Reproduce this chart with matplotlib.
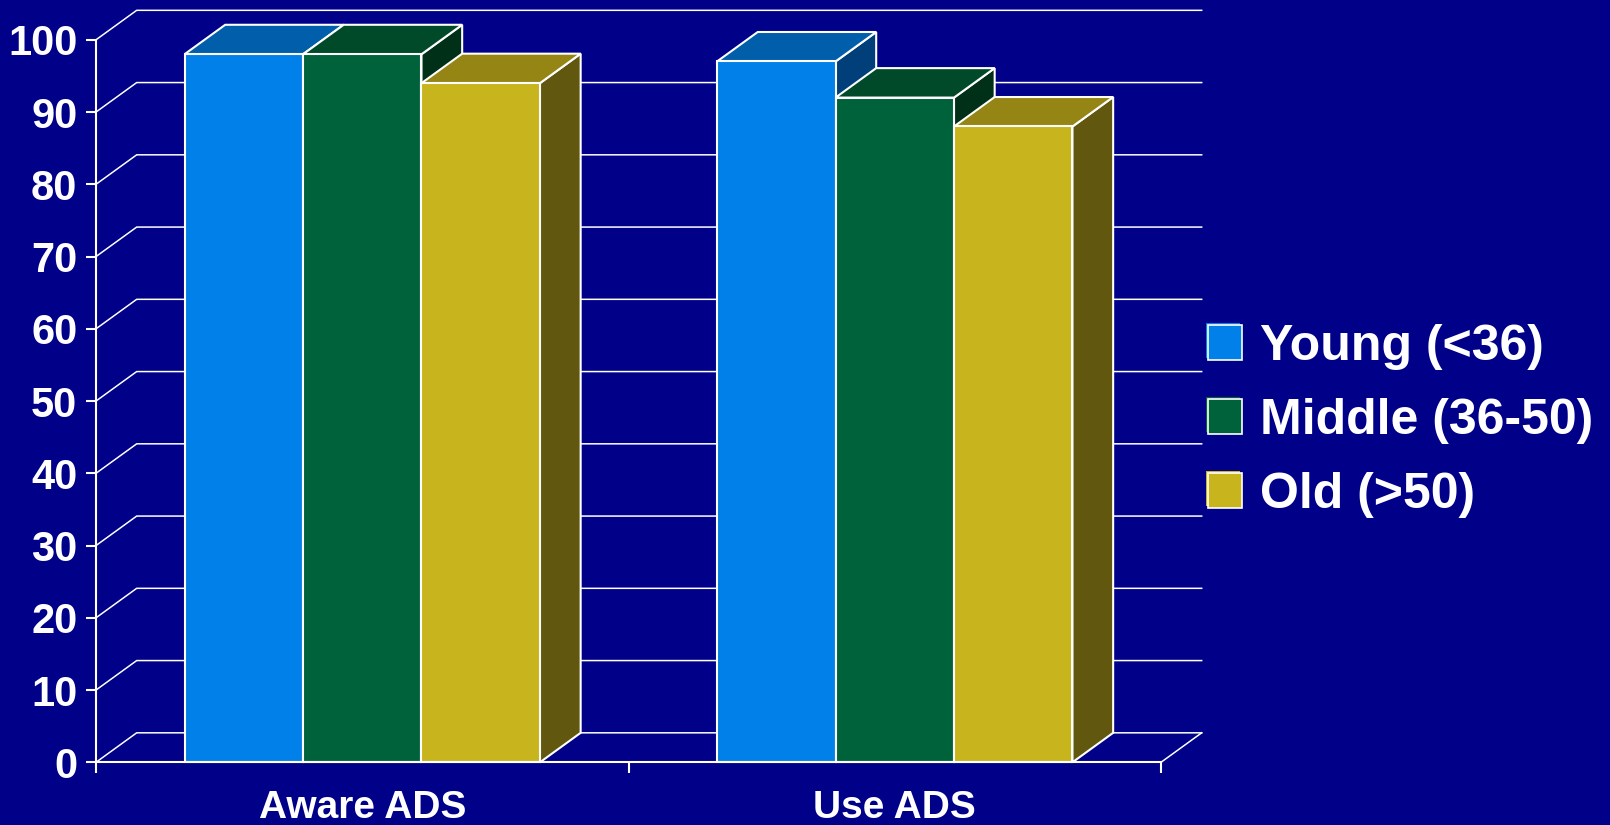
import matplotlib
matplotlib.use('Agg')
import matplotlib.pyplot as plt
from matplotlib.patches import Polygon, Rectangle, Patch
from matplotlib.legend_handler import HandlerBase

# ---------------- data ----------------
categories = ['Aware ADS', 'Use ADS']
series_names = ['Young (<36)', 'Middle (36-50)', 'Old (>50)']
young = [98, 97]
middle = [98, 92]
old = [94, 88]
y_ticks = [0, 10, 20, 30, 40, 50, 60, 70, 80, 90, 100]

# ---------------- style ----------------
BG = '#000088'
front_colors = ['#0080E8', '#00623A', '#C8B41C']
top_colors = ['#005EAA', '#004A2A', '#958514']
side_colors = ['#003F7A', '#003018', '#61570E']

plt.rcParams['font.family'] = ['Liberation Sans', 'DejaVu Sans']
plt.rcParams['font.weight'] = 'bold'

DX = 0.0764   # depth offset in x (category units)
DY = 4.08     # depth offset in y (value units)
BAR_W = 0.2225

fig = plt.figure(figsize=(16.1, 8.25), dpi=100, facecolor=BG)
ax = fig.add_axes([96 / 1610, (825 - 762.3) / 825, 1065 / 1610, 722.5 / 825])
ax.set_facecolor(BG)
ax.set_xlim(0, len(categories))
ax.set_ylim(0, 100)

# back wall gridlines + side wall diagonals
for v in y_ticks:
    ax.plot([0, DX, len(categories) + DX], [v, v + DY, v + DY], color='white',
            lw=1.1, zorder=1, clip_on=False, solid_joinstyle='miter')
# floor right edge
ax.plot([len(categories), len(categories) + DX], [0, DY], color='white',
        lw=1.1, zorder=1, clip_on=False)

# bars
series = [young, middle, old]
for si, vals in enumerate(series):
    xs = [gi + 0.5 + (si - 1.5) * BAR_W for gi in range(len(categories))]
    for x0, h in zip(xs, vals):
        side = Polygon([(x0 + BAR_W, 0), (x0 + BAR_W + DX, DY),
                        (x0 + BAR_W + DX, h + DY), (x0 + BAR_W, h)],
                       closed=True, facecolor=side_colors[si], edgecolor='white',
                       lw=1.5, zorder=10 + 3 * si, clip_on=False, joinstyle='miter')
        top = Polygon([(x0, h), (x0 + BAR_W, h), (x0 + BAR_W + DX, h + DY),
                       (x0 + DX, h + DY)],
                      closed=True, facecolor=top_colors[si], edgecolor='white',
                      lw=1.5, zorder=11 + 3 * si, clip_on=False, joinstyle='miter')
        ax.add_patch(side)
        ax.add_patch(top)
    ax.bar(xs, vals, width=BAR_W, align='edge', color=front_colors[si],
           edgecolor='white', linewidth=1.5, zorder=12 + 3 * si, clip_on=False)

# axes styling
for s in ['top', 'right']:
    ax.spines[s].set_visible(False)
for s in ['left', 'bottom']:
    ax.spines[s].set_color('white')
    ax.spines[s].set_linewidth(1.5)
    ax.spines[s].set_zorder(30)

ax.set_yticks(y_ticks)
ax.set_yticklabels([str(v) for v in y_ticks])
ax.tick_params(axis='y', colors='white', length=7.5, width=1.5, pad=6,
               labelsize=30)

ax.set_xticks(list(range(len(categories) + 1)))
ax.set_xticklabels([])
ax.set_xticks([i + 0.5 for i in range(len(categories))], minor=True)
ax.set_xticklabels(categories, minor=True)
ax.tick_params(axis='x', which='major', colors='white', length=8, width=1.5)
ax.tick_params(axis='x', which='minor', length=0, pad=20, labelsize=28,
               labelcolor='white')


# legend with shadowed square markers
class ShadowSquare(HandlerBase):
    def create_artists(self, legend, orig_handle, xdescent, ydescent,
                       width, height, fontsize, trans):
        fc = orig_handle.get_facecolor()
        shadow = Rectangle((-xdescent - 1.5, -ydescent + 1.5), width, height,
                           facecolor=fc, edgecolor='none', transform=trans)
        box = Rectangle((-xdescent, -ydescent), width, height, facecolor=fc,
                        edgecolor='white', lw=1.2, transform=trans)
        return [shadow, box]


handles = [Patch(facecolor=c) for c in front_colors]
leg = fig.legend(handles, series_names, loc='center left',
                 bbox_to_anchor=(1208 / 1610, (825 - 421) / 825),
                 frameon=False, fontsize=36, handlelength=0.68,
                 handleheight=0.68, handletextpad=0.36, labelspacing=0.56,
                 borderpad=0, borderaxespad=0,
                 handler_map={Patch: ShadowSquare()})
for t in leg.get_texts():
    t.set_color('white')
    t.set_fontweight('bold')

fig.savefig('out.png', dpi=100, facecolor=BG)
